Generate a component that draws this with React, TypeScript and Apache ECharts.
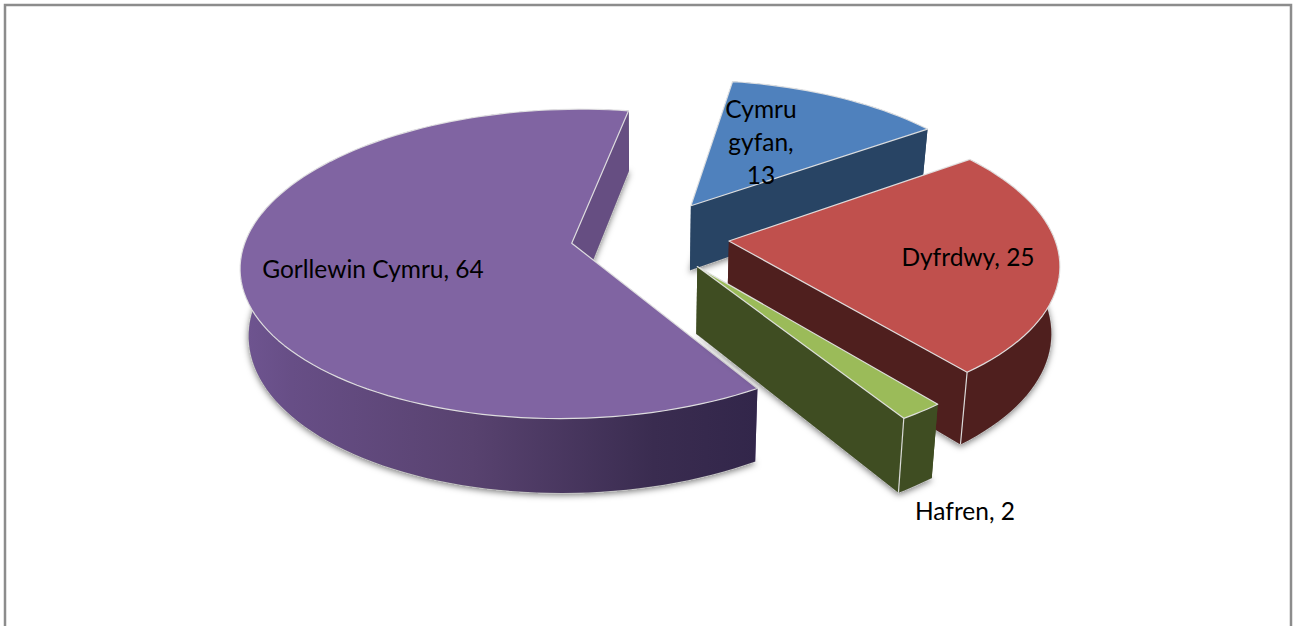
import React, { useEffect, useRef } from "react";
import * as echarts from "echarts";

const categories = ["Cymru gyfan", "Dyfrdwy", "Hafren", "Gorllewin Cymru"];
const seriesValues = [13, 25, 2, 64];

const topColors = ["#4f81bd", "#c0504d", "#9bbb59", "#8064a2"];
const wallColors = ["#284464", "#4f1f1e", "#3f4d22", "#664e82"];
const paintRank = [0, 2, 3, 1];
const labelX = [761, 968, 965, 373];
const labelY = [141, 256, 510, 268];
const labelWrap = [true, false, false, false];

const START_ANGLE = 9.5;
const EXPLODE = 0.244;
const CX = 650;
const CY = 236;
const SX = 325;
const SY = 150;
const PERSP = 0.133;
const VANISH_X = 650;
const CONVERGE = 0.021;
const EDGE = "rgba(228,228,228,0.95)";

const total = seriesValues.reduce((a, b) => a + b, 0);
const rad = (d: number) => (d * Math.PI) / 180;

function project(X: number, Y: number): number[] {
  const w = 1 + PERSP * Y;
  return [CX + (SX * X) / w, CY - (SY * Y) / w];
}
function drop(p: number[]): number[] {
  const h = 60 + (p[1] - 113) * 0.047;
  return [p[0] + (VANISH_X - p[0]) * CONVERGE, p[1] + h];
}

function renderItem(params: any, api: any) {
  const i = params.dataIndex;
  const value = api.value(0);
  let before = 0;
  for (let k = 0; k < i; k++) before += seriesValues[k];
  const a0 = START_ANGLE + (before / total) * 360;
  const a1 = a0 + (value / total) * 360;
  const mid = rad((a0 + a1) / 2);
  const ox = EXPLODE * Math.sin(mid);
  const oy = EXPLODE * Math.cos(mid);
  const apex = project(ox, oy);
  const arc: number[][] = [];
  const steps = Math.max(6, Math.ceil((a1 - a0) / 2));
  for (let s = 0; s <= steps; s++) {
    const t = rad(a0 + ((a1 - a0) * s) / steps);
    arc.push(project(ox + Math.sin(t), oy + Math.cos(t)));
  }
  const arcBottom = arc.map(drop).reverse();
  const base = paintRank[i] * 10 + 1;
  const first = arc[0];
  const last = arc[arc.length - 1];
  const wall = (a: number[], b: number[], z: number) => ({
    type: "polygon",
    z2: base + z,
    shape: { points: [a, b, drop(b), drop(a)] },
    style: { fill: wallColors[i] },
  });
  const isPurple = i === 3;
  const outerFill: any = isPurple
    ? new echarts.graphic.LinearGradient(0, 0, 1, 0, [
        { offset: 0, color: "#6f5591" },
        { offset: 0.1, color: "#674e86" },
        { offset: 0.45, color: "#58426f" },
        { offset: 0.8, color: "#3a2c50" },
        { offset: 1, color: "#32264a" },
      ])
    : wallColors[i];
  const children: any[] = [
    {
      type: "polygon",
      z2: base - 1,
      shape: { points: [drop(apex), ...arcBottom] },
      style: {
        fill: "#666",
        stroke: "#bbb",
        lineWidth: 1,
        shadowBlur: 6,
        shadowColor: "rgba(0,0,0,0.5)",
        shadowOffsetY: 2,
      },
    },
    wall(apex, first, 0),
    {
      type: "polygon",
      z2: base + 1,
      shape: { points: [...arc, ...arcBottom] },
      style: { fill: outerFill },
    },
    wall(apex, last, 2),
  ];
  const endAngle = ((a1 % 360) + 360) % 360;
  if (endAngle > 90 && endAngle < 270) {
    const b = drop(last);
    children.push({
      type: "line",
      z2: base + 3,
      shape: { x1: last[0], y1: last[1], x2: b[0], y2: b[1] },
      style: { stroke: EDGE, lineWidth: 1.2 },
    });
  }
  children.push({
    type: "polygon",
    z2: base + 4,
    shape: { points: [apex, ...arc] },
    style: { fill: topColors[i], stroke: EDGE, lineWidth: 1.2, lineJoin: "round" },
  });
  const label = `${categories[i]}, ${value}`;
  children.push({
    type: "text",
    z2: 100,
    style: {
      text: labelWrap[i] ? label.split(" ").join("\n") : label,
      x: labelX[i],
      y: labelY[i],
      fill: "#000",
      font: "24.5px Lato, sans-serif",
      align: "center",
      verticalAlign: "middle",
      lineHeight: 33,
    },
  });
  return { type: "group", children };
}

export default function App() {
  const ref = useRef<HTMLDivElement>(null);
  useEffect(() => {
    if (!ref.current) return;
    const chart = echarts.init(ref.current, undefined, { renderer: "svg" });
    chart.setOption({
      animation: false,
      backgroundColor: "#fff",
      graphic: [
        {
          type: "rect",
          z: -1,
          silent: true,
          shape: { x: 5, y: 5, width: 1286, height: 660 },
          style: { fill: "none", stroke: "#8c8c8c", lineWidth: 2.5 },
        },
      ],
      series: [
        {
          type: "custom",
          coordinateSystem: "none",
          silent: true,
          clip: false,
          renderItem,
          data: seriesValues.map((v) => [v]),
        },
      ],
    });
    return () => chart.dispose();
  }, []);
  return <div ref={ref} style={{ position: "fixed", left: 0, top: 0, width: 1293, height: 626 }} />;
}
